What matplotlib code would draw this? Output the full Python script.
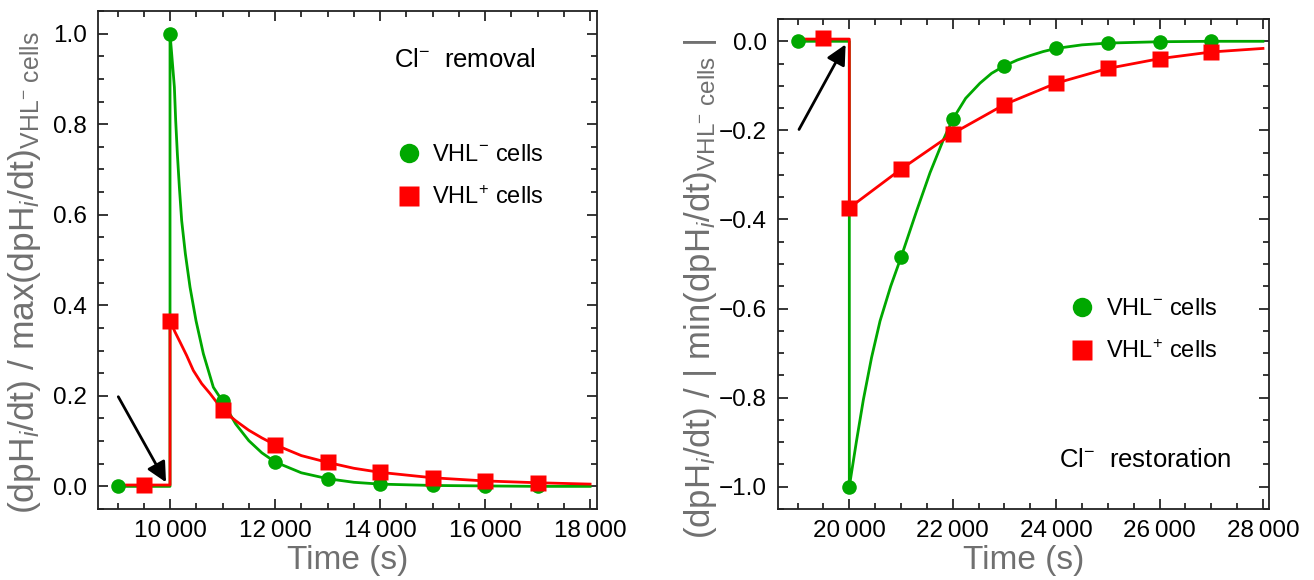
import matplotlib
matplotlib.use("Agg")
import matplotlib.pyplot as plt
from matplotlib.ticker import MultipleLocator, FuncFormatter
from matplotlib.lines import Line2D

plt.rcParams['font.family'] = ['Liberation Sans', 'DejaVu Sans']
plt.rcParams['mathtext.fontset'] = 'custom'
plt.rcParams['mathtext.rm'] = 'Liberation Sans'
plt.rcParams['mathtext.it'] = 'Liberation Sans:italic'

GREEN = '#00A800'
RED = '#FF0000'

# --- Cl- removal (left panel) ---
rem_green_t = [9000, 10000, 11000, 12000, 13000, 14000, 15000, 16000, 17000]
rem_green_v = [0.0, 1.0, 0.188, 0.054, 0.017, 0.005, 0.002, 0.001, 0.0]
rem_red_t = [9500, 10000, 11000, 12000, 13000, 14000, 15000, 16000, 17000]
rem_red_v = [0.003, 0.366, 0.169, 0.092, 0.053, 0.031, 0.019, 0.012, 0.008]

# model curves
rem_gcurve_t = [9000, 10000, 10000, 10032, 10083, 10108, 10140, 10178, 10222, 10292,
                10381, 10495, 10635, 10825, 11000, 11250, 11500, 11750, 12000, 12500,
                13000, 13500, 14000, 15000, 16000, 17000, 18000]
rem_gcurve_v = [0.0, 0.0, 1.0, 0.955, 0.882, 0.808, 0.734, 0.661, 0.587, 0.514,
                0.44, 0.366, 0.293, 0.219, 0.188, 0.138, 0.101, 0.074, 0.054, 0.03,
                0.017, 0.009, 0.005, 0.002, 0.001, 0.0, 0.0]
rem_rcurve_t = [9000, 10000, 10000, 10095, 10190, 10317, 10444, 10603, 10762, 11000,
                11250, 11500, 11750, 12000, 12500, 13000, 13500, 14000, 15000, 16000,
                17000, 18000]
rem_rcurve_v = [0.003, 0.003, 0.366, 0.341, 0.319, 0.289, 0.256, 0.227, 0.205, 0.169,
                0.145, 0.124, 0.107, 0.092, 0.068, 0.053, 0.040, 0.031, 0.019, 0.012,
                0.008, 0.005]

# --- Cl- restoration (right panel) ---
res_green_t = [19000, 20000, 21000, 22000, 23000, 24000, 25000, 26000, 27000]
res_green_v = [0.0, -1.0, -0.485, -0.175, -0.055, -0.016, -0.004, -0.001, 0.0]
res_red_t = [19500, 20000, 21000, 22000, 23000, 24000, 25000, 26000, 27000]
res_red_v = [0.007, -0.374, -0.287, -0.207, -0.142, -0.094, -0.061, -0.039, -0.024]

res_gcurve_t = [19000, 20000, 20000, 20135, 20271, 20430, 20594, 20800, 21000, 21304,
                21561, 21819, 22000, 22250, 22527, 22750, 23000, 23250, 23500, 23750,
                24000, 24500, 25000, 26000, 27000, 28000]
res_gcurve_v = [0.0, 0.0, -1.0, -0.90, -0.805, -0.71, -0.628, -0.55, -0.485, -0.38,
                -0.295, -0.221, -0.175, -0.128, -0.094, -0.072, -0.055, -0.042, -0.032, -0.023,
                -0.016, -0.008, -0.004, -0.001, 0.0, 0.0]
res_rcurve_t = [19000, 20000, 20000, 21000, 22000, 23000, 24000, 25000, 26000, 27000, 28000]
res_rcurve_v = [0.005, 0.005, -0.374, -0.287, -0.207, -0.142, -0.094, -0.061, -0.039, -0.024, -0.016]

leg_labels = ['VHL$^{-}$ cells', 'VHL$^{+}$ cells']

fig = plt.figure(figsize=(13.14, 5.8), dpi=100)
ax1 = fig.add_axes([0.0746, 0.1224, 0.3798, 0.8586])
ax2 = fig.add_axes([0.5921, 0.1224, 0.3737, 0.8448])

thin = FuncFormatter(lambda v, p: '{:,.0f}'.format(v).replace(',', '\u2009'))


def style(ax, xlim, ylim):
    ax.set_xlim(*xlim)
    ax.set_ylim(*ylim)
    ax.xaxis.set_major_locator(MultipleLocator(2000))
    ax.xaxis.set_minor_locator(MultipleLocator(500))
    ax.yaxis.set_major_locator(MultipleLocator(0.2))
    ax.yaxis.set_minor_locator(MultipleLocator(0.05))
    ax.xaxis.set_major_formatter(thin)
    ax.yaxis.set_major_formatter(FuncFormatter(lambda v, p: '{:.1f}'.format(v).replace('-', '\u2212')))
    ax.tick_params(which='both', direction='in', top=True, right=True, labelsize=17.5, width=1.1)
    ax.tick_params(which='major', length=7, pad=8)
    ax.tick_params(which='minor', length=4)
    for s in ax.spines.values():
        s.set_linewidth(1.3)
        s.set_color('#222222')
    ax.set_xlabel('Time (s)', fontsize=24, color='#707070', labelpad=2)


def draw(ax, gc_t, gc_v, rc_t, rc_v, g_t, g_v, r_t, r_v):
    ax.plot(gc_t, gc_v, color=GREEN, lw=2.0, zorder=2)
    ax.plot(rc_t, rc_v, color=RED, lw=2.0, zorder=3)
    ax.plot(g_t, g_v, 'o', color=GREEN, ms=10.5, mec='none', zorder=4)
    ax.plot(r_t, r_v, 's', color=RED, ms=11, mec='none', zorder=5)


def legend(ax, x, y):
    handles = [Line2D([], [], ls='none', marker='o', color=GREEN, ms=14, mec='none'),
               Line2D([], [], ls='none', marker='s', color=RED, ms=14.5, mec='none')]
    ax.legend(handles, leg_labels, loc='center left', bbox_to_anchor=(x, y), frameon=False,
              fontsize=17, handlelength=1.0, handletextpad=0.5, borderpad=0,
              borderaxespad=0, labelspacing=0.85)


style(ax1, (8629, 18133), (-0.05, 1.05))
draw(ax1, rem_gcurve_t, rem_gcurve_v, rem_rcurve_t, rem_rcurve_v,
     rem_green_t, rem_green_v, rem_red_t, rem_red_v)
legend(ax1, 0.599, 0.668)
ax1.text(0.735, 0.902, 'Cl$^{-}$  removal', transform=ax1.transAxes, ha='center', va='center', fontsize=18.5)
ax1.annotate('', xy=(9924, 0.009), xytext=(9015, 0.198),
             arrowprops=dict(arrowstyle='-|>', color='black', lw=2, mutation_scale=30, shrinkA=0, shrinkB=0))
ax1.set_ylabel('(dpH$_{i}$/dt) / max(dpH$_{i}$/dt)$_{\\mathrm{VHL^{-}\\ cells}}$',
               fontsize=25.5, color='#707070')
ax1.yaxis.set_label_coords(-0.11, 0.475)

style(ax2, (18621, 28118), (-1.05, 0.05))
draw(ax2, res_gcurve_t, res_gcurve_v, res_rcurve_t, res_rcurve_v,
     res_green_t, res_green_v, res_red_t, res_red_v)
legend(ax2, 0.595, 0.364)
ax2.text(0.747, 0.10, 'Cl$^{-}$  restoration', transform=ax2.transAxes, ha='center', va='center', fontsize=18.5)
ax2.annotate('', xy=(19928, -0.007), xytext=(19027, -0.198),
             arrowprops=dict(arrowstyle='-|>', color='black', lw=2, mutation_scale=30, shrinkA=0, shrinkB=0))
ax2.set_ylabel('(dpH$_{i}$/dt) / | min(dpH$_{i}$/dt)$_{\\mathrm{VHL^{-}\\ cells}}$ |',
               fontsize=25, color='#707070')
ax2.yaxis.set_label_coords(-0.12, 0.45)

fig.savefig('out.png', dpi=100)
